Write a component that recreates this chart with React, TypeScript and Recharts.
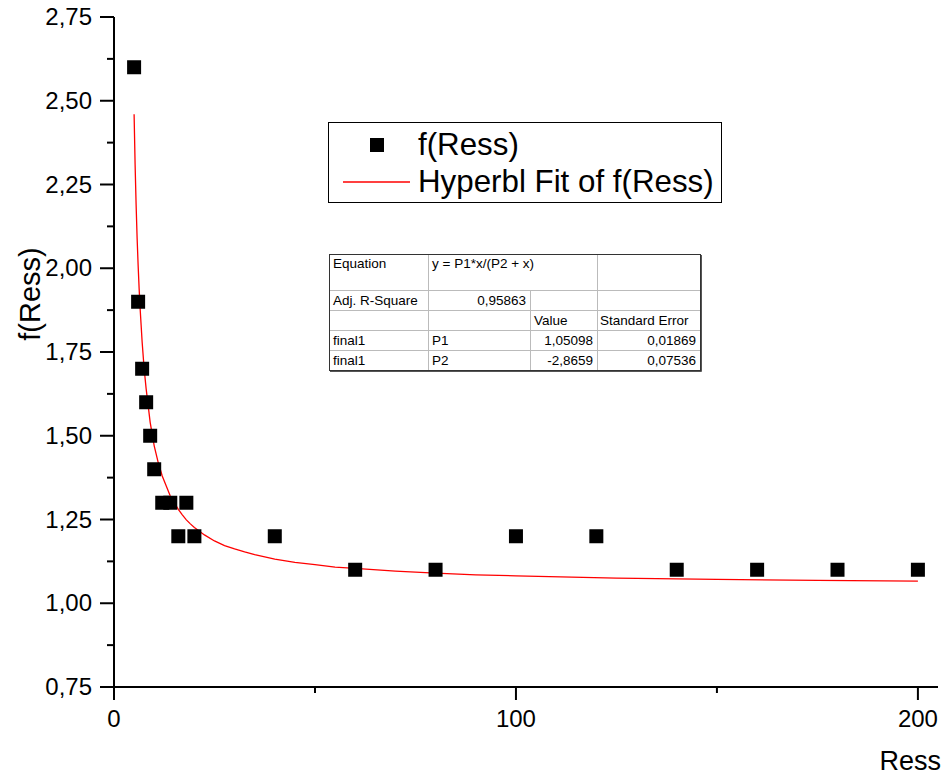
import * as React from "react";
import { ScatterChart, Scatter, XAxis, YAxis } from "recharts";

// measured points f(Ress) vs Ress
const ressValues = [5, 6, 7, 8, 9, 10, 12, 14, 16, 18, 20, 40, 60, 80, 100, 120, 140, 160, 180, 200];
const fValues = [2.6, 1.9, 1.7, 1.6, 1.5, 1.4, 1.3, 1.3, 1.2, 1.3, 1.2, 1.2, 1.1, 1.1, 1.2, 1.2, 1.1, 1.1, 1.1, 1.1];

// red fit curve
const fitX = [
  5, 5.25, 5.5, 5.75, 6, 6.25, 6.5, 6.75, 7, 7.5, 8, 8.5, 9, 10, 11, 12, 13, 14, 15, 16, 17, 18, 19, 20,
  22.5, 25, 27.5, 30, 32.5, 35, 40, 45, 50, 55, 60, 70, 80, 90, 100, 125, 150, 175, 200,
];
const fitY = [
  2.46, 2.31, 2.19, 2.09, 2.01, 1.94, 1.88, 1.83, 1.78, 1.7, 1.64, 1.59, 1.54, 1.47, 1.42, 1.38, 1.35, 1.32, 1.3, 1.28, 1.264, 1.249, 1.237, 1.226,
  1.204, 1.186, 1.172, 1.162, 1.153, 1.145, 1.132, 1.122, 1.115, 1.108, 1.104, 1.096, 1.09, 1.085, 1.082, 1.075, 1.071, 1.068, 1.066,
];

const xTicks = [0, 50, 100, 150, 200];
const xLabeled = [0, 100, 200];
const yTicks = [0.75, 0.875, 1, 1.125, 1.25, 1.375, 1.5, 1.625, 1.75, 1.875, 2, 2.125, 2.25, 2.375, 2.5, 2.625, 2.75];

const tableRows = [
  ["Equation", "y = P1*x/(P2 + x)", "", ""],
  ["Adj. R-Square", "0,95863", "", ""],
  ["", "", "Value", "Standard Error"],
  ["final1", "P1", "1,05098", "0,01869"],
  ["final1", "P2", "-2,8659", "0,07536"],
];

const FONT = "'Liberation Sans', Arial, sans-serif";
const W = 951;
const H = 778;
const PLOT_LEFT = 114;
const PLOT_TOP = 17;
const PLOT_RIGHT = 938;
const PLOT_BOTTOM = 687;

const points = ressValues.map((x, i) => ({ x, y: fValues[i] }));
const fit = fitX.map((x, i) => ({ x, y: fitY[i] }));

const fmt = (v: number) => v.toFixed(2).replace(".", ",");

function YTick(props: any) {
  const { y, payload } = props;
  const v = payload.value;
  const major = Math.abs(v * 4 - Math.round(v * 4)) < 1e-6;
  return (
    <g>
      <line x1={PLOT_LEFT - (major ? 14 : 7)} x2={PLOT_LEFT} y1={y} y2={y} stroke="#000" strokeWidth={2} />
      {major && (
        <text x={PLOT_LEFT - 22} y={y + 8} textAnchor="end" fontSize={24} fontFamily={FONT} fill="#000">
          {fmt(v)}
        </text>
      )}
    </g>
  );
}

function XTick(props: any) {
  const { x, payload } = props;
  const v = payload.value;
  const major = xLabeled.includes(v);
  return (
    <g>
      <line x1={x} x2={x} y1={PLOT_BOTTOM} y2={PLOT_BOTTOM + (major ? 13 : 6)} stroke="#000" strokeWidth={2} />
      {major && (
        <text x={x} y={PLOT_BOTTOM + 40} textAnchor="middle" fontSize={24} fontFamily={FONT} fill="#000">
          {v}
        </text>
      )}
    </g>
  );
}

const squareShape = (props: any) => {
  const { cx, cy } = props;
  if (cx == null || cy == null) return <g />;
  return <rect x={cx - 7} y={cy - 7} width={14} height={14} fill="#000" />;
};

const noShape = () => <g />;

function Overlay() {
  const colX = [329, 428, 530, 597, 700];
  const rowY = [254, 290, 310, 330, 350, 370];
  return (
    <svg width={W} height={H} style={{ position: "absolute", left: 0, top: 0, pointerEvents: "none" }}>
      {/* legend */}
      <rect x={328.5} y={122.5} width={393} height={80} fill="#fff" stroke="#000" strokeWidth={1} />
      <rect x={370} y={138} width={14} height={14} fill="#000" />
      <text x={418} y={155} fontSize={31.3} fontFamily={FONT} fill="#000">f(Ress)</text>
      <line x1={343} x2={410} y1={182} y2={182} stroke="#ff0000" strokeWidth={1.3} />
      <text x={418} y={192} fontSize={31.3} fontFamily={FONT} fill="#000">Hyperbl Fit of f(Ress)</text>

      {/* fit results table */}
      <rect x={colX[0]} y={rowY[0]} width={colX[4] - colX[0]} height={rowY[5] - rowY[0]} fill="#fff" />
      {rowY.slice(1, 5).map((y) => (
        <line key={"h" + y} x1={colX[0]} x2={colX[4]} y1={y + 0.5} y2={y + 0.5} stroke="#bbb" strokeWidth={1} />
      ))}
      <line x1={colX[1] + 0.5} x2={colX[1] + 0.5} y1={rowY[0]} y2={rowY[5]} stroke="#bbb" />
      <line x1={colX[2] + 0.5} x2={colX[2] + 0.5} y1={rowY[1]} y2={rowY[5]} stroke="#bbb" />
      <line x1={colX[3] + 0.5} x2={colX[3] + 0.5} y1={rowY[0]} y2={rowY[5]} stroke="#bbb" />
      <rect x={colX[0] + 0.5} y={rowY[0] + 0.5} width={colX[4] - colX[0]} height={rowY[5] - rowY[0]} fill="none" stroke="#333" strokeWidth={1} />
      <line x1={colX[0] + 1} x2={colX[4] + 1.5} y1={rowY[5] + 1.5} y2={rowY[5] + 1.5} stroke="#555" />
      <line x1={colX[4] + 1.5} x2={colX[4] + 1.5} y1={rowY[0] + 1} y2={rowY[5] + 1.5} stroke="#555" />
      {tableRows.map((row, r) => {
        const base = r === 0 ? rowY[0] + 14 : rowY[r] + 15;
        return (
          <g key={"r" + r} fontSize={13.5} fontFamily={FONT} fill="#000">
            <text x={colX[0] + 4} y={base}>{row[0]}</text>
            {r === 1 ? (
              <text x={colX[2] - 4} y={base} textAnchor="end">{row[1]}</text>
            ) : (
              <text x={colX[1] + 4} y={base}>{row[1]}</text>
            )}
            {r >= 3 ? (
              <text x={colX[3] - 4} y={base} textAnchor="end">{row[2]}</text>
            ) : (
              <text x={colX[2] + 4} y={base}>{row[2]}</text>
            )}
            {r >= 3 ? (
              <text x={colX[4] - 4} y={base} textAnchor="end">{row[3]}</text>
            ) : (
              <text x={colX[3] + 3} y={base}>{row[3]}</text>
            )}
          </g>
        );
      })}

      {/* axis titles */}
      <text x={30} y={294} transform="rotate(-90 30 294)" textAnchor="middle" dominantBaseline="central" fontSize={29} fontFamily={FONT} fill="#000">
        f(Ress)
      </text>
      <text x={941} y={770} textAnchor="end" fontSize={27} fontFamily={FONT} fill="#000">
        Ress
      </text>
    </svg>
  );
}

export default function App() {
  return (
    <div style={{ position: "relative", width: W, height: H, margin: "-8px 0 0 -8px", background: "#fff" }}>
      <ScatterChart width={W} height={H} margin={{ top: PLOT_TOP, right: W - PLOT_RIGHT, left: 0, bottom: 0 }}>
        <XAxis
          type="number"
          dataKey="x"
          domain={[0, 205]}
          ticks={xTicks}
          tick={XTick}
          tickLine={false}
          axisLine={{ stroke: "#000", strokeWidth: 2 }}
          height={H - PLOT_BOTTOM}
          allowDataOverflow
        />
        <YAxis
          type="number"
          dataKey="y"
          domain={[0.75, 2.75]}
          ticks={yTicks}
          tick={YTick}
          tickLine={false}
          axisLine={{ stroke: "#000", strokeWidth: 2 }}
          width={PLOT_LEFT}
          interval={0}
          allowDataOverflow
        />
        <Scatter
          name="Hyperbl Fit of f(Ress)"
          data={fit}
          fill="#ff0000"
          line={{ stroke: "#ff0000", strokeWidth: 1.3 }}
          lineType="joint"
          shape={noShape}
          isAnimationActive={false}
        />
        <Scatter name="f(Ress)" data={points} fill="#000" shape={squareShape} isAnimationActive={false} />
      </ScatterChart>
      <Overlay />
    </div>
  );
}
